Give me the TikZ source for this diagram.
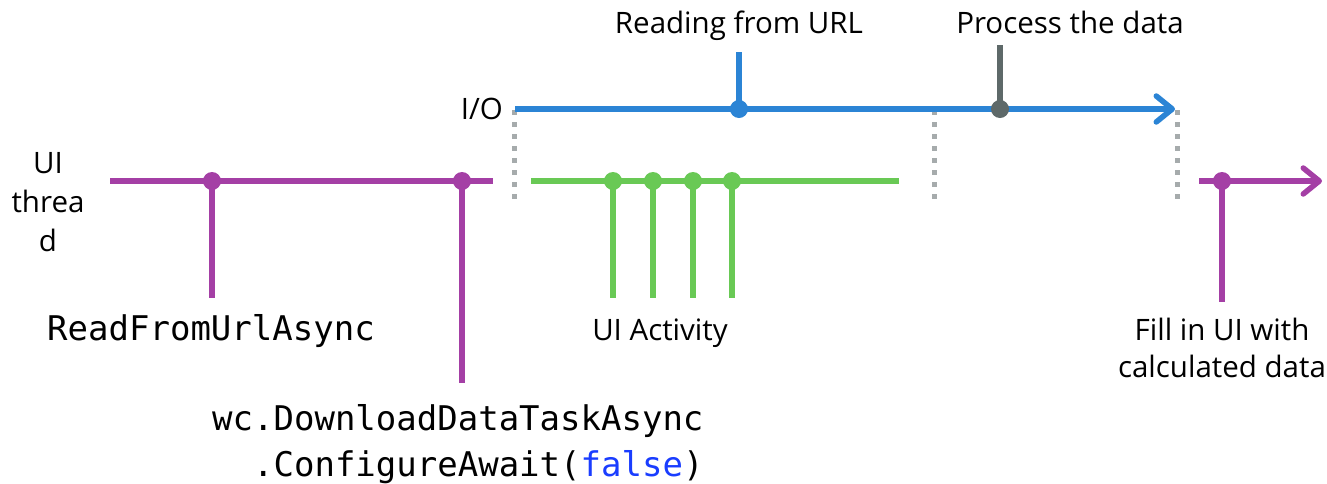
\documentclass[tikz,border=0pt]{standalone}
\usepackage{fontspec}
\setmainfont{Open Sans}
\setmonofont{DejaVu Sans Mono}
\usetikzlibrary{arrows.meta,positioning}
\definecolor{uipurple}{HTML}{A43FA5}
\definecolor{ioblue}{HTML}{2B84D5}
\definecolor{actgreen}{HTML}{69C955}
\definecolor{procgray}{HTML}{5E6969}
\definecolor{sepgray}{HTML}{A6ABAC}
\definecolor{kwblue}{HTML}{1A3DFF}

\begin{document}
\begin{tikzpicture}[x=1pt,y=-1pt,>={Straight Barb[length=16pt,width=26pt,round]},
  track/.style={line width=5.5pt},
  dot/.style={circle,fill,inner sep=0pt,minimum size=18pt},
  sep/.style={sepgray,line width=5pt,dash pattern=on 5pt off 7pt},
  lbl/.style={font=\fontsize{29.5}{39}\selectfont,align=center,inner sep=0pt},
  code/.style={font=\fontsize{34}{46}\selectfont\ttfamily,inner sep=0pt}]
  \useasboundingbox (0,0) rectangle (1327,483);
  % separators between UI thread and I/O
  \draw[sep] (514,110) -- (514,202);
  \draw[sep] (934,110) -- (934,202);
  \draw[sep] (1177,110) -- (1177,202);
  % UI thread, first part
  \coordinate (uistart) at (110,181);
  \coordinate (uistop) at (493,181);
  \draw[track,uipurple] (uistart) -- (uistop);
  \draw[track,uipurple] (212,181) -- (212,298);
  \draw[track,uipurple] (462,181) -- (462,383);
  \node[dot,uipurple] (readcall) at (212,181) {};
  \node[dot,uipurple] (dlcall) at (462,181) {};
  % I/O line
  \coordinate (iostart) at (515,109);
  \coordinate (ioend) at (1175,109);
  \draw[track,ioblue,->] (iostart) -- (ioend);
  \draw[track,ioblue] (739,52) -- (739,109);
  \draw[track,procgray] (1000,45) -- (1000,109);
  \node[dot,ioblue] (reading) at (739,109) {};
  \node[dot,procgray] (process) at (1000,109) {};
  % UI activity while waiting
  \draw[track,actgreen] (531,181) -- (899,181);
  \foreach \x [count=\i] in {613,653,693,732}{
    \draw[track,actgreen] (\x,181) -- (\x,298);
    \node[dot,actgreen] (act\i) at (\x,181) {};
  }
  % UI thread, continuation
  \coordinate (fillstart) at (1199,181);
  \coordinate (fillend) at (1322,181);
  \draw[track,uipurple,->] (fillstart) -- (fillend);
  \draw[track,uipurple] (1222,181) -- (1222,302);
  \node[dot,uipurple] (fillui) at (1222,181) {};
  % labels
  \node[lbl] (uilbl) at (48,202) {UI\\threa\\d};
  \node[lbl,anchor=base east] (iolbl) at (503,119) {I/O};
  \node[lbl,anchor=base] (readlbl) at (739,33) {Reading from URL};
  \node[lbl,anchor=base] (proclbl) at (1070,33) {Process the data};
  \node[lbl,anchor=base] (actlbl) at (660,340) {UI Activity};
  \node[lbl,anchor=base] (filllbl) at (1222,340) {Fill in UI with};
  \node[lbl,anchor=base] (filllbl2) at (1222,377) {calculated data};
  \node[code,anchor=base] (readcode) at (211,340) {ReadFromUrlAsync};
  \node[code,anchor=base west] (dlcode) at (212,430) {wc.DownloadDataTaskAsync};
  \node[code,anchor=base west] (awaitcode) at (212,476) {\phantom{wc}.ConfigureAwait(\textcolor{kwblue}{false})};
\end{tikzpicture}
\end{document}
